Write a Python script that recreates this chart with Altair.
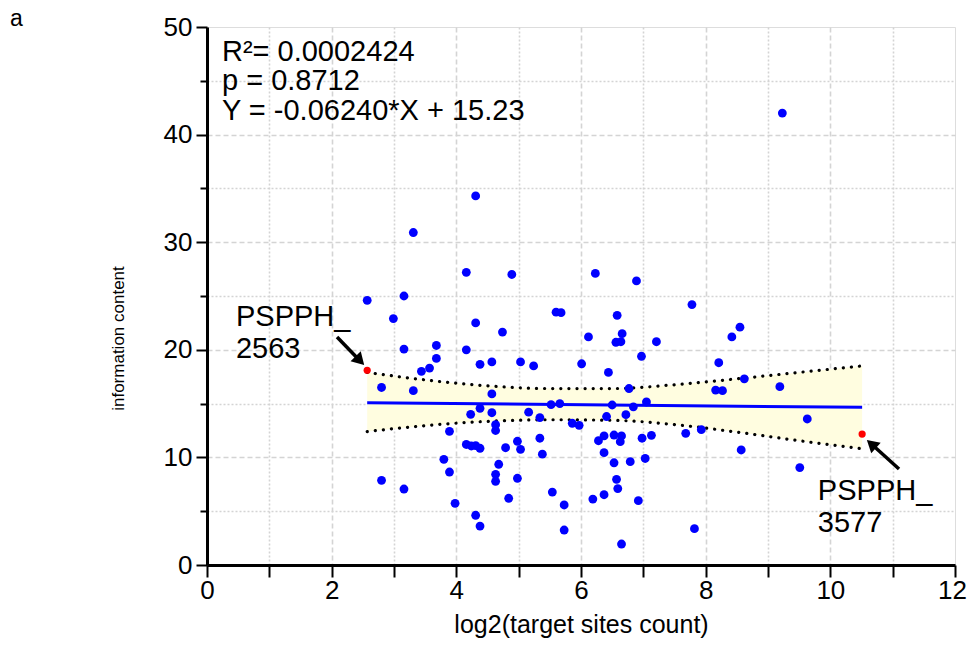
import altair as alt
import pandas as pd

# ---- data ----
x_vals = [9.23, 4.31, 3.31, 4.16, 4.89, 6.23, 6.89, 2.57, 3.16, 7.78,
          2.99, 4.31, 5.60, 5.68, 6.58, 4.74, 6.12, 6.66, 6.56, 6.64,
          7.21, 8.55, 8.42, 3.16, 3.68, 4.16, 3.68, 6.97, 4.38, 4.57,
          5.03, 5.24, 6.01, 8.21, 3.57, 3.44, 6.44, 8.62, 2.80, 3.31,
          4.57, 6.77, 8.16, 8.27, 9.19, 7.05, 5.52, 5.66, 6.50, 6.84,
          4.38, 4.23, 4.57, 5.16, 5.34, 6.41, 6.72, 9.63, 4.63, 4.63,
          5.86, 5.97, 3.89, 7.93, 7.68, 5.34, 6.37, 6.53, 6.65, 6.63,
          6.28, 6.98, 7.13, 4.98, 4.16, 4.24, 4.31, 4.38, 4.79, 5.03,
          8.57, 5.38, 6.37, 3.80, 7.03, 6.79, 6.53, 4.68, 9.51, 3.89,
          4.63, 4.98, 6.57, 2.80, 4.63, 3.16, 6.59, 5.54, 6.37, 4.84,
          6.19, 6.92, 3.98, 5.73, 4.31, 4.38, 7.82, 5.73, 6.65]
y_vals = [42.0, 34.3, 30.9, 27.2, 27.0, 27.1, 26.4, 24.6, 25.0, 24.2,
          22.9, 22.5, 23.5, 23.45, 23.2, 21.65, 21.2, 21.5, 20.7, 20.75,
          20.75, 22.1, 21.2, 20.07, 20.4, 20.0, 19.2, 19.4, 18.65, 18.87,
          18.87, 18.5, 18.7, 18.8, 18.3, 18.0, 17.9, 17.3, 16.5, 16.2,
          15.9, 16.4, 16.26, 16.2, 16.57, 15.15, 14.9, 15.0, 14.87, 14.7,
          14.56, 14.0, 14.15, 14.2, 13.7, 13.8, 13.97, 13.57, 13.04, 12.5,
          13.17, 12.98, 12.42, 12.58, 12.24, 11.78, 12.0, 12.08, 12.0, 11.46,
          11.55, 11.78, 12.05, 11.5, 11.2, 11.06, 11.09, 10.85, 10.9, 10.75,
          10.69, 10.3, 10.44, 9.82, 9.9, 9.6, 9.5, 9.36, 9.05, 8.64,
          8.43, 8.06, 7.96, 7.87, 7.78, 7.06, 7.1, 6.78, 6.53, 6.2,
          6.13, 5.98, 5.73, 5.58, 4.62, 3.62, 3.38, 3.25, 1.95]

red_x = [2.57, 10.51]
red_y = [18.1, 12.17]

fit_x = [2.57, 10.51]
fit_y = [15.08, 14.65]

band_x = [2.57, 3.5, 4.5, 5.5, 6.5, 7.5, 8.5, 9.5, 10.51]
band_hi = [17.9, 17.2, 16.65, 16.4, 16.4, 16.75, 17.3, 17.9, 18.5]
band_lo = [12.4, 12.95, 13.35, 13.5, 13.45, 13.05, 12.35, 11.55, 10.8]

stats_lines = ["R²= 0.0002424", "p = 0.8712", "Y = -0.06240*X + 15.23"]
stats_x = [0.24, 0.24, 0.24]
stats_y = [46.84, 44.14, 41.36]

label_lines = ["PSPPH_", "2563", "PSPPH_", "3577"]
label_x = [0.465, 0.465, 9.80, 9.80]
label_y = [22.2, 19.24, 6.04, 3.07]

# arrows: tail -> head centre (data units), head angle in degrees
arrow_x = [2.086, 11.102]
arrow_y = [21.19, 8.92]
arrow_x2 = [2.453, 10.659]
arrow_y2 = [18.99, 11.245]
arrow_angle = [136, 312]

FONT = "Liberation Sans"

xs = alt.Scale(domain=[0, 12], nice=False, zero=False)
ys = alt.Scale(domain=[0, 50], nice=False, zero=False)

xaxis = alt.Axis(
    values=list(range(0, 13)),
    labelExpr="datum.value % 2 == 0 ? datum.label : ''",
    labelOverlap=False, labelFlush=False,
    labelOffset={"condition": {"test": "datum.value == 12", "value": -3}, "value": 0},
    grid=True,
    gridDash={"condition": {"test": "datum.value % 2 === 0", "value": [5, 3]}, "value": [2, 2]},
    gridColor={"condition": {"test": "datum.value == 0 || datum.value == 12", "value": "transparent"}, "value": "#d4d4d4"},
    gridWidth=1.6,
    tickSize=12, tickWidth=2, tickColor="black",
    domainColor="black", domainWidth=3,
    labelFont=FONT, labelFontSize=26, labelColor="black", labelPadding=0,
    titleFont=FONT, titleFontSize=25, titleFontWeight="normal", titleColor="black",
    titleBaseline="alphabetic", titleY=67,
)
yaxis = alt.Axis(
    values=list(range(0, 51, 5)),
    labelExpr="datum.value % 10 == 0 ? datum.label : ''",
    labelOverlap=False, labelFlush=False,
    grid=True,
    gridDash={"condition": {"test": "datum.value % 10 === 0", "value": [5, 3]}, "value": [2, 2]},
    gridColor={"condition": {"test": "datum.value == 0 || datum.value == 50", "value": "transparent"}, "value": "#d4d4d4"},
    gridWidth=1.6,
    tickSize={"condition": {"test": "datum.value % 10 === 0", "value": 11}, "value": 7},
    tickWidth=2, tickColor="black",
    domainColor="black", domainWidth=3,
    labelFont=FONT, labelFontSize=26, labelColor="black", labelPadding=4,
    titleFont=FONT, titleFontSize=17, titleFontWeight="normal",
    titleColor="black", titleAngle=270, titleBaseline="middle", titleAlign="center",
    titleX=-89, titleY=311,
)

X = alt.X("x:Q", scale=xs, axis=xaxis, title="log2(target sites count)")
Y = alt.Y("y:Q", scale=ys, axis=yaxis, title="information content")

pts = pd.DataFrame({"x": x_vals, "y": y_vals})
reds = pd.DataFrame({"x": red_x, "y": red_y})
fit = pd.DataFrame({"x": fit_x, "y": fit_y})
band = pd.DataFrame({"x": band_x, "y": band_lo, "y2": band_hi})
hi = pd.DataFrame({"x": band_x, "y": band_hi})
lo = pd.DataFrame({"x": band_x, "y": band_lo})
stats = pd.DataFrame({"x": stats_x, "y": stats_y, "t": stats_lines})
labels = pd.DataFrame({"x": label_x, "y": label_y, "t": label_lines})
arrows = pd.DataFrame({"x": arrow_x, "y": arrow_y, "x2": arrow_x2, "y2": arrow_y2})
heads = pd.DataFrame({"x": arrow_x2, "y": arrow_y2, "ang": arrow_angle})
panel = pd.DataFrame({"t": ["a"]})

band_layer = alt.Chart(band).mark_area(interpolate="monotone", color="#FFFDE0").encode(
    x=X, y=Y, y2="y2:Q")
dot_hi = alt.Chart(hi).mark_line(interpolate="monotone", color="black", strokeWidth=3.2,
                                 strokeDash=[0.1, 8], strokeCap="round").encode(x=X, y=Y)
dot_lo = alt.Chart(lo).mark_line(interpolate="monotone", color="black", strokeWidth=3.2,
                                 strokeDash=[0.1, 8], strokeCap="round").encode(x=X, y=Y)
fit_layer = alt.Chart(fit).mark_line(color="#0000FF", strokeWidth=3).encode(x=X, y=Y)
pts_layer = alt.Chart(pts).mark_circle(size=78, color="#0000FF", opacity=1).encode(x=X, y=Y)
red_layer = alt.Chart(reds).mark_circle(size=52, color="#FF0000", opacity=1).encode(x=X, y=Y)
stats_layer = alt.Chart(stats).mark_text(align="left", baseline="alphabetic", font=FONT,
                                         fontSize=29, color="black").encode(x=X, y=Y, text="t:N")
label_layer = alt.Chart(labels).mark_text(align="left", baseline="alphabetic", font=FONT,
                                          fontSize=29, color="black").encode(x=X, y=Y, text="t:N")
arrow_layer = alt.Chart(arrows).mark_rule(color="black", strokeWidth=3.5).encode(
    x=X, y=Y, x2="x2:Q", y2="y2:Q")
head_layer = alt.Chart(heads).mark_point(shape="triangle-up", filled=True, size=200,
                                         color="black", opacity=1).encode(
    x=X, y=Y, angle=alt.Angle("ang:Q", scale=None))
panel_layer = alt.Chart(panel).mark_text(align="left", baseline="alphabetic", font=FONT,
                                         fontSize=23, color="black").encode(
    x=alt.value(-197), y=alt.value(-1), text="t:N")

chart = alt.layer(
    band_layer, dot_hi, dot_lo, fit_layer, pts_layer, red_layer,
    stats_layer, label_layer, arrow_layer, head_layer, panel_layer
).properties(
    width=748, height=538,
    padding={"left": 199, "top": 19, "right": 12, "bottom": 73},
    autosize=alt.AutoSizeParams(type="none"),
).configure_view(stroke="black", strokeWidth=2).configure(background="white")

chart.save("out.html", embed_options={"renderer": "svg", "actions": False})
